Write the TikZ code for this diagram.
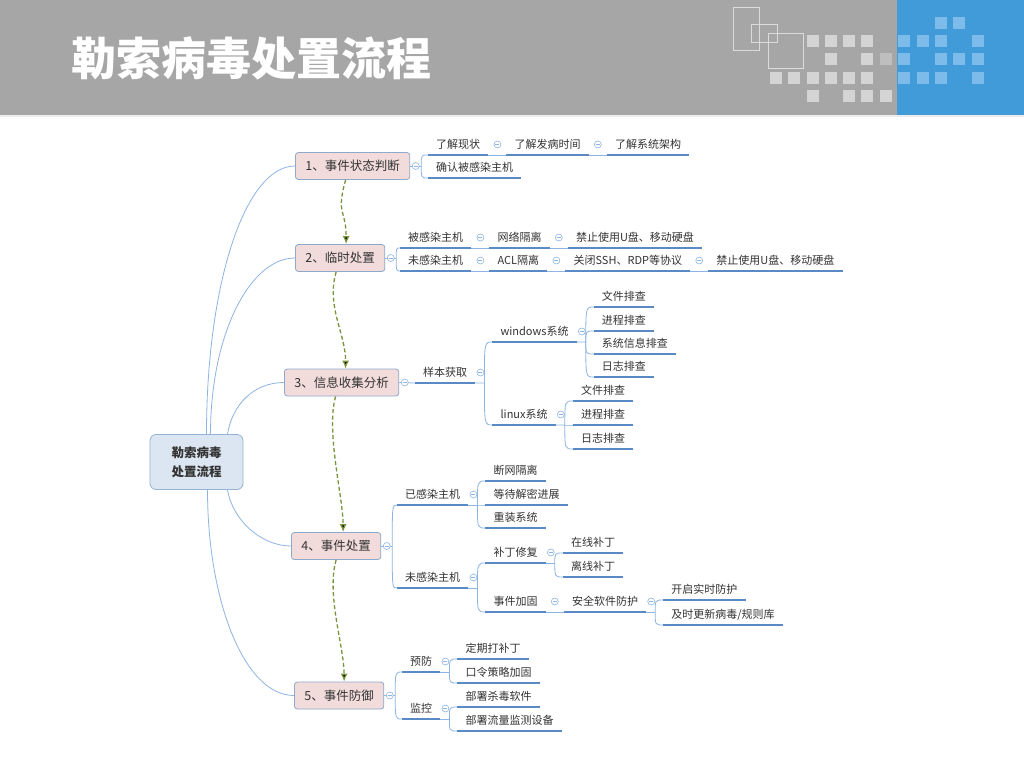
\documentclass[tikz,border=0pt]{standalone}
\usepackage{fontspec}
\setmainfont{Noto Sans CJK SC}
\usetikzlibrary{arrows.meta}

\definecolor{headgray}{HTML}{A6A6A6}
\definecolor{headblue}{HTML}{419BD9}
\definecolor{sqgray}{HTML}{D4D4D4}
\definecolor{sqdark}{HTML}{BEBEBE}
\definecolor{sqblue}{HTML}{7DBBEA}
\definecolor{rootfill}{HTML}{DCE6F2}
\definecolor{rootline}{HTML}{95B3D7}
\definecolor{stagefill}{HTML}{F2DCDB}
\definecolor{stageline}{HTML}{8EA9CB}
\definecolor{thinline}{HTML}{8DB4E2}
\definecolor{ulblue}{HTML}{5A8AC6}
\definecolor{flowgreen}{HTML}{77933C}
\definecolor{txt}{HTML}{333333}

\newcommand{\fanout}[2]{\foreach \c in {#2}{\draw[branch] (#1) .. controls (#1 |- \c.south west) .. (\c.south west);}}

\tikzset{
  rootbox/.style={draw=rootline, fill=rootfill, line width=0.8pt, rounded corners=6pt,
    minimum width=93pt, minimum height=55pt, align=center, text=txt,
    font=\bfseries\fontsize{12.5}{19}\selectfont},
  stagebox/.style={draw=stageline, fill=stagefill, line width=0.8pt, rounded corners=3pt,
    anchor=west, inner xsep=10pt, minimum height=27pt, text=txt,
    font=\fontsize{12.5}{15}\selectfont},
  leaf/.style={anchor=south west, inner xsep=8pt, inner ysep=4.8pt, text height=9pt,
    text depth=2pt, text=txt, font=\fontsize{11}{13}\selectfont},
  minus/.style={circle, draw=thinline, fill=white, line width=0.6pt, inner sep=0pt,
    minimum size=7pt, path picture={\draw[thinline, line width=0.6pt]
      ([xshift=-2pt]path picture bounding box.center) -- ([xshift=2pt]path picture bounding box.center);}},
  branch/.style={draw=thinline, line width=0.8pt},
  uline/.style={draw=ulblue, line width=2pt},
  flow/.style={draw=flowgreen, line width=1.3pt, dash pattern=on 4pt off 2.5pt},
  wave/.style={-{Latex[length=8pt,width=7pt]},
    to path={.. controls +(-10,35) and +(0,-35) .. (\tikztotarget)}}
}

\begin{document}
\begin{tikzpicture}[x=1pt, y=-1pt]
\useasboundingbox (0,0) rectangle (1024,768);
\fill[white] (0,0) rectangle (1024,768);
\fill[headgray] (0,0) rectangle (1024,115);
\fill[headblue] (897,0) rectangle (1024,115);
\draw[white!80!headgray, line width=1.5pt] (0,116) -- (1024,116);
\foreach \x/\y in {807/35,825/35,843/35,861/35,825/53,861/53,770/72,788/72,807/72,825/72,843/72,861/72,807/90,843/90,861/90,880/90}
  \fill[sqgray] (\x,\y) rectangle ++(12,12);
\fill[sqdark] (880,53) rectangle ++(12,12);
\foreach \x/\y in {935/17,953/17,898/35,917/35,935/35,972/35,898/53,935/53,953/53,972/53,898/72,917/72,935/72,972/72}
  \fill[sqblue] (\x,\y) rectangle ++(12,12);
\draw[white, opacity=0.6, line width=1pt] (733,8) rectangle (759,51) (751,25) rectangle (777,43) (768,34) rectangle (803,68);
\node[anchor=west, inner sep=0pt, text=white, font=\bfseries\fontsize{45}{50}\selectfont] (title) at (71,58) {勒索病毒处置流程};

\node[rootbox] (root) at (196.5,462) {勒索病毒\\处置流程};
\node[stagebox] (s1) at (295,166) {1、事件状态判断};
\node[stagebox] (s2) at (295,258) {2、临时处置};
\node[stagebox] (s3) at (284,382.5) {3、信息收集分析};
\node[stagebox] (s4) at (291,546) {4、事件处置};
\node[stagebox] (s5) at (294,695.5) {5、事件防御};

\draw[branch] ([xshift=10pt]root.north) .. controls +(0,-150) and +(-50,0) .. (s1.west);
\draw[branch] ([xshift=14pt]root.north) .. controls +(0,-100) and +(-45,0) .. (s2.west);
\draw[branch] ([xshift=31pt]root.north) .. controls +(5,-30) and +(-30,0) .. (s3.west);
\draw[branch] ([xshift=31pt]root.south) .. controls +(5,30) and +(-30,0) .. (s4.west);
\draw[branch] ([xshift=11pt]root.south) .. controls +(0,110) and +(-50,0) .. (s5.west);

\path[flow]
  ([xshift=-7pt]s1.south) edge[wave] ([xshift=6pt]s2.north)
  ([xshift=-4pt]s2.south) edge[wave] ([xshift=4pt]s3.north)
  ([xshift=-6pt]s3.south) edge[wave] ([xshift=7pt]s4.north)
  (s4.south) edge[wave] ([xshift=5pt]s5.north);

\coordinate (s1j) at ([xshift=11pt]s1.east);
\node[leaf] (a1) at (428,155) {了解现状};
\node[leaf] (a2) at ([xshift=18pt]a1.south east) {了解发病时间};
\node[leaf] (a3) at ([xshift=18pt]a2.south east) {了解系统架构};
\node[leaf] (a4) at (428,178) {确认被感染主机};
\draw[branch] (s1.east) -- (s1j) (a1.south east) -- (a2.south west) (a2.south east) -- (a3.south west);
\fanout{s1j}{a1,a4}

\coordinate (s2j) at ([xshift=11pt]s2.east);
\node[leaf] (b1) at (400,248) {被感染主机};
\node[leaf] (b2) at ([xshift=18pt]b1.south east) {网络隔离};
\node[leaf] (b3) at ([xshift=18pt]b2.south east) {禁止使用U盘、移动硬盘};
\node[leaf] (b4) at (400,271) {未感染主机};
\node[leaf] (b5) at ([xshift=18pt]b4.south east) {ACL隔离};
\node[leaf] (b6) at ([xshift=18pt]b5.south east) {关闭SSH、RDP等协议};
\node[leaf] (b7) at ([xshift=18pt]b6.south east) {禁止使用U盘、移动硬盘};
\draw[branch] (s2.east) -- (s2j) (b1.south east) -- (b2.south west) (b2.south east) -- (b3.south west)
  (b4.south east) -- (b5.south west) (b5.south east) -- (b6.south west) (b6.south east) -- (b7.south west);
\fanout{s2j}{b1,b4}

\node[leaf] (d1) at (415,383) {样本获取};
\coordinate (d1j) at ([xshift=9pt]d1.south east);
\node[leaf, xshift=8pt] (d2) at (d1j |- 0,342) {windows系统};
\node[leaf, xshift=8pt] (d3) at (d1j |- 0,425) {linux系统};
\coordinate (d2j) at ([xshift=9pt]d2.south east);
\node[leaf, xshift=8pt] (d4) at (d2j |- 0,307) {文件排查};
\node[leaf, xshift=8pt] (d5) at (d2j |- 0,331) {进程排查};
\node[leaf, xshift=8pt] (d6) at (d2j |- 0,354) {系统信息排查};
\node[leaf, xshift=8pt] (d7) at (d2j |- 0,377) {日志排查};
\coordinate (d3j) at ([xshift=9pt]d3.south east);
\node[leaf, xshift=8pt] (d8) at (d3j |- 0,401) {文件排查};
\node[leaf, xshift=8pt] (d9) at (d3j |- 0,425) {进程排查};
\node[leaf, xshift=8pt] (d10) at (d3j |- 0,449) {日志排查};
\draw[branch] (s3.east) -- (d1.south west) (d1.south east) -- (d1j) (d2.south east) -- (d2j) (d3.south east) -- (d3j);
\fanout{d1j}{d2,d3}
\fanout{d2j}{d4,d5,d6,d7}
\fanout{d3j}{d8,d9,d10}

\coordinate (s4j) at ([xshift=11pt]s4.east);
\node[leaf] (e1) at (397,505) {已感染主机};
\node[leaf] (e2) at (397,588) {未感染主机};
\coordinate (e1j) at ([xshift=9pt]e1.south east);
\node[leaf, xshift=8pt] (e3) at (e1j |- 0,481) {断网隔离};
\node[leaf, xshift=8pt] (e4) at (e1j |- 0,505) {等待解密进展};
\node[leaf, xshift=8pt] (e5) at (e1j |- 0,528) {重装系统};
\coordinate (e2j) at ([xshift=9pt]e2.south east);
\node[leaf, xshift=8pt] (e6) at (e2j |- 0,563) {补丁修复};
\node[leaf, xshift=8pt] (e7) at (e2j |- 0,612) {事件加固};
\coordinate (e6j) at ([xshift=9pt]e6.south east);
\node[leaf, xshift=8pt] (e8) at (e6j |- 0,553) {在线补丁};
\node[leaf, xshift=8pt] (e9) at (e6j |- 0,577) {离线补丁};
\node[leaf] (e10) at ([xshift=18pt]e7.south east) {安全软件防护};
\coordinate (e10j) at ([xshift=9pt]e10.south east);
\node[leaf, xshift=8pt] (e11) at (e10j |- 0,600) {开启实时防护};
\node[leaf, xshift=8pt] (e12) at (e10j |- 0,625) {及时更新病毒/规则库};
\draw[branch] (s4.east) -- (s4j) (e1.south east) -- (e1j) (e2.south east) -- (e2j) (e6.south east) -- (e6j)
  (e7.south east) -- (e10.south west) (e10.south east) -- (e10j);
\fanout{s4j}{e1,e2}
\fanout{e1j}{e3,e4,e5}
\fanout{e2j}{e6,e7}
\fanout{e6j}{e8,e9}
\fanout{e10j}{e11,e12}

\coordinate (s5j) at ([xshift=11pt]s5.east);
\node[leaf] (f1) at (402,672) {预防};
\node[leaf] (f2) at (402,719) {监控};
\coordinate (f1j) at ([xshift=9pt]f1.south east);
\node[leaf, xshift=8pt] (f3) at (f1j |- 0,659) {定期打补丁};
\node[leaf, xshift=8pt] (f4) at (f1j |- 0,683) {口令策略加固};
\coordinate (f2j) at ([xshift=9pt]f2.south east);
\node[leaf, xshift=8pt] (f5) at (f2j |- 0,707) {部署杀毒软件};
\node[leaf, xshift=8pt] (f6) at (f2j |- 0,731) {部署流量监测设备};
\draw[branch] (s5.east) -- (s5j) (f1.south east) -- (f1j) (f2.south east) -- (f2j);
\fanout{s5j}{f1,f2}
\fanout{f1j}{f3,f4}
\fanout{f2j}{f5,f6}

\foreach \n in {a1,a2,a3,a4,b1,b2,b3,b4,b5,b6,b7,d1,d2,d3,d4,d5,d6,d7,d8,d9,d10,e1,e2,e3,e4,e5,e6,e7,e8,e9,e10,e11,e12,f1,f2,f3,f4,f5,f6}
  \draw[uline] (\n.south west) -- (\n.south east);
\foreach \s in {s1,s2,s3,s4,s5}
  \node[minus] (\s-m) at ([xshift=5.5pt]\s.east) {};
\foreach \n in {a1,a2,b1,b2,b4,b5,b6,e7}
  \node[minus] (\n-m) at ([xshift=9pt]\n.east) {};
\foreach \n in {d1,d2,d3,e1,e2,e6,e10,f1,f2}
  \node[minus] (\n-m) at ([xshift=5pt]\n.east) {};
\end{tikzpicture}
\end{document}
